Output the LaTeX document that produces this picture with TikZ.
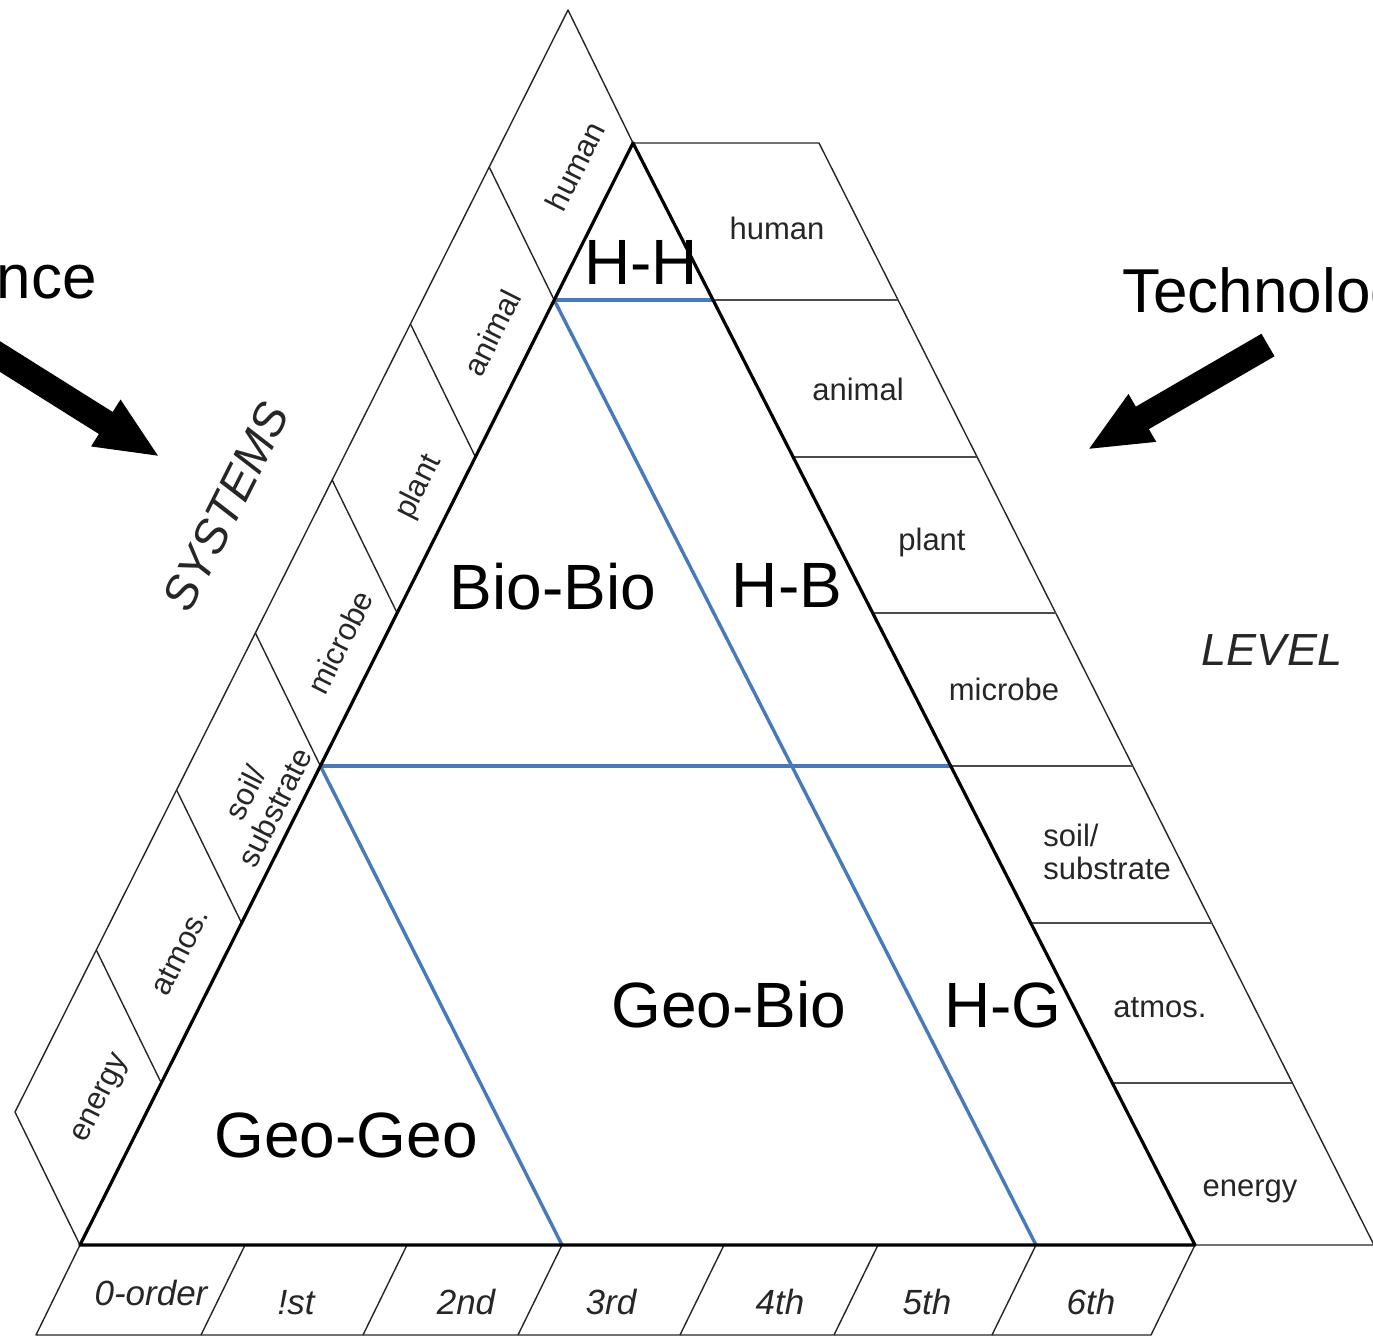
\documentclass[tikz,border=0pt]{standalone}
\usepackage{fontspec}
\setmainfont{Liberation Sans}
\usetikzlibrary{calc,arrows.meta}
\definecolor{zoneblue}{RGB}{72,122,187}
\begin{document}
\begin{tikzpicture}[x=0.5pt,y=-0.5pt,
  frame/.style={line width=1.6pt, black, line join=round},
  band/.style={line width=0.7pt, black!85, line join=round},
  rung/.style={line width=1.1pt, black!70},
  zone/.style={line width=1.7pt, zoneblue},
  zonelabel/.style={font=\fontsize{32}{38}\selectfont, inner sep=0pt},
  bandlabel/.style={font=\fontsize{15.5}{16.5}\selectfont, text=black!85, inner sep=0pt},
  orderlabel/.style={font=\fontsize{17.5}{20}\selectfont\itshape, text=black!85, inner sep=0pt, anchor=base},
  axislabel/.style={font=\fontsize{23.5}{26}\selectfont\itshape, text=black!85, inner sep=0pt},
  driver/.style={font=\fontsize{31}{36}\selectfont, inner sep=0pt},
  bigarrow/.style={line width=13pt, line cap=butt, -{Triangle[width=25pt,length=32pt]}},
]
\useasboundingbox (0,0) rectangle (1373,1340);
\clip (0,0) rectangle (1373,1340);

% corners of the central triangle
\coordinate (A)  at (633,143);
\coordinate (BL) at (80,1245);
\coordinate (BR) at (1195,1245);

% outer edges of the side bands
\coordinate (LA) at ($(A)+(-65,-133)$);
\coordinate (LB) at ($(BL)+(-65,-133)$);
\coordinate (RA) at (819,143);
\coordinate (RB) at (1374,1245);

% level marks along both sides
\foreach \k/\f in {1/0.1425,2/0.2849,3/0.4265,4/0.5653,5/0.7078,6/0.8530}{
  \coordinate (L\k) at ($(A)!\f!(BL)$);
  \coordinate (R\k) at ($(A)!\f!(BR)$);
  \coordinate (Q\k) at ($(RA)!\f!(RB)$);
}

% order marks along the base
\foreach \k/\x in {0/80,1/245,2/407,3/562,4/724,5/878,6/1036,7/1195}{
  \coordinate (B\k) at (\x,1245);
  \coordinate (C\k) at ($(B\k)+(-44,90)$);
}

% left band (systems)
\draw[band] (A) -- (LA) -- (LB) -- (BL);
\foreach \k in {1,...,6} \draw[band] (L\k) -- ++(-65,-133);

% right band (level)
\draw[band] (A) -- (RA) -- (RB) -- (BR);
\foreach \k in {1,...,6} \draw[rung] (R\k) -- (Q\k);

% bottom band (order)
\draw[band] (B0) -- (C0) -- (C7) -- (B7);
\foreach \k in {1,...,6} \draw[band] (B\k) -- (C\k);

% interaction zones
\draw[zone] (L1) -- (R1);
\draw[zone] (L4) -- (R4);
\draw[zone] (L1) -- (B6);
\draw[zone] (L4) -- (B3);

% central triangle
\draw[frame] (A) -- (BL) -- (BR) -- cycle;

% zone names
\node[zonelabel] (hh)     at (641,262)  {H-H};
\node[zonelabel] (biobio) at (553,587)  {Bio-Bio};
\node[zonelabel] (hb)     at (787,585)  {H-B};
\node[zonelabel] (geobio) at (729,1005) {Geo-Bio};
\node[zonelabel] (hg)     at (1003,1005){H-G};
\node[zonelabel] (geogeo) at (346,1135) {Geo-Geo};

% system names in the left band
\node[bandlabel, rotate=63.3] (sh) at (575,166) {human};
\node[bandlabel, rotate=63.3] (sa) at (492,333) {animal};
\node[bandlabel, rotate=63.3] (sp) at (419,487) {plant};
\node[bandlabel, rotate=63.3] (sm) at (340,642) {microbe};
\node[bandlabel, rotate=63.3, align=center] (ss) at (260,800) {soil/\\substrate};
\node[bandlabel, rotate=63.3] (sat) at (180,952) {atmos.};
\node[bandlabel, rotate=63.3] (se) at (102,1099) {energy};

% level names in the right band
\node[bandlabel, anchor=base] (lh) at (777,239)  {human};
\node[bandlabel, anchor=base] (la) at (858,400)  {animal};
\node[bandlabel, anchor=base] (lp) at (932,550)  {plant};
\node[bandlabel, anchor=base] (lm) at (1004,700) {microbe};
\node[bandlabel, anchor=west, align=left] (ls) at (1043,852) {soil/\\substrate};
\node[bandlabel, anchor=base] (lat) at (1160,1017) {atmos.};
\node[bandlabel, anchor=base] (le) at (1250,1196) {energy};

% order names in the bottom band
\node[orderlabel] (o0) at (151,1305) {0-order};
\node[orderlabel] (o1) at (296,1314) {!st};
\node[orderlabel] (o2) at (466,1314) {2nd};
\node[orderlabel] (o3) at (611,1314) {3rd};
\node[orderlabel] (o4) at (780,1314) {4th};
\node[orderlabel] (o5) at (927,1314) {5th};
\node[orderlabel] (o6) at (1091,1314) {6th};

% axis titles
\node[axislabel, rotate=63.3] (systems) at (226,507) {SYSTEMS};
\node[axislabel, font=\fontsize{22.5}{26}\selectfont\itshape] (level) at (1272,650) {LEVEL};

% drivers
\node[driver, anchor=base east] (science) at (97,298) {Science};
\node[driver, anchor=base west] (technology) at (1122,312) {Technology};

\coordinate (sciTail) at (-20,344);
\coordinate (sciTip)  at (160,457);
\draw[bigarrow] (sciTail) -- (sciTip);

\coordinate (techTail) at (1268,345);
\coordinate (techTip)  at (1087,450);
\draw[bigarrow] (techTail) -- (techTip);
\end{tikzpicture}
\end{document}
